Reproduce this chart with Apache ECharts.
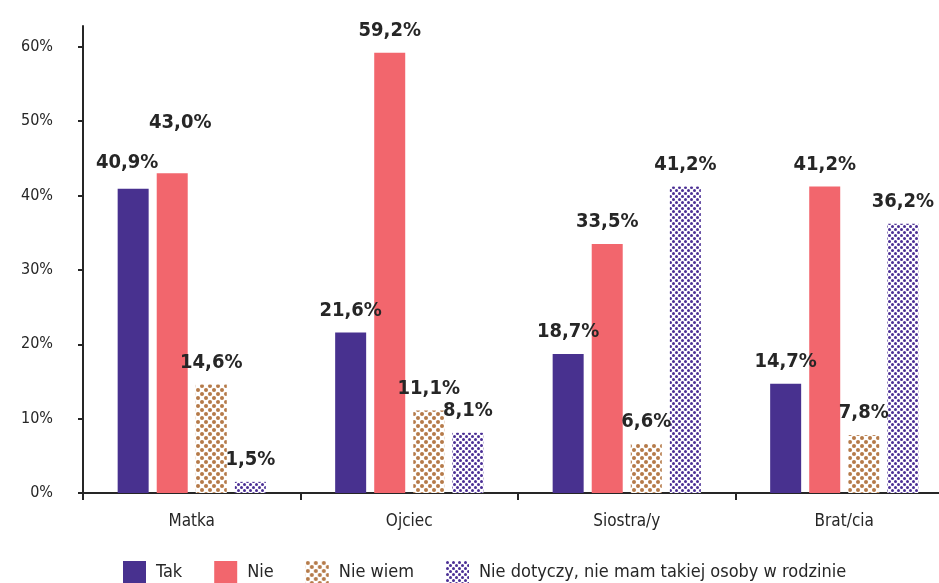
<!DOCTYPE html>
<html lang="pl">
  <head>
    <meta charset="UTF-8" />
    <title>Wykres</title>
    <style>
      html, body { margin: 0; padding: 0; background: #fff; overflow: hidden; }
      #chart { width: 953px; height: 583px; }
    </style>
  </head>
  <body>
    <div id="chart"></div>
    <script src="https://cdn.jsdelivr.net/npm/echarts@6/dist/echarts.min.js"></script>
    <script>
      const categories = ["Matka", "Ojciec", "Siostra/y", "Brat/cia"];
      const seriesNames = ["Tak", "Nie", "Nie wiem", "Nie dotyczy, nie mam takiej osoby w rodzinie"];
      const tak = [40.9, 21.6, 18.7, 14.7];
      const nie = [43.0, 59.2, 33.5, 41.2];
      const nieWiem = [14.6, 11.1, 6.6, 7.8];
      const nieDotyczy = [1.5, 8.1, 41.2, 36.2];
      const yTicks = [0, 10, 20, 30, 40, 50, 60];

      const font = "DejaVu Sans Condensed";

      // kropkowany wzór dla słupków
      function dots(color, size, r) {
        const c = document.createElement("canvas");
        c.width = size;
        c.height = size;
        const ctx = c.getContext("2d");
        ctx.fillStyle = "#fff";
        ctx.fillRect(0, 0, size, size);
        ctx.fillStyle = color;
        [[size / 4, size / 4], [size * 3 / 4, size * 3 / 4]].forEach(([x, y]) => {
          ctx.beginPath();
          ctx.arc(x, y, r, 0, Math.PI * 2);
          ctx.fill();
        });
        return c;
      }

      const colors = [
        "#48318f",
        "#f2666d",
        { image: dots("#b57a49", 8, 2), repeat: "repeat" },
        { image: dots("#4b2f95", 6, 1.5), repeat: "repeat" }
      ];

      // ręczne przesunięcia niektórych etykiet, jak w oryginale
      const labelShift = { "0-0": [-6, -4], "1-0": [8, -28] };

      function makeSeries(name, values, idx) {
        return {
          name: name,
          type: "bar",
          barWidth: 31,
          barGap: "26%",
          itemStyle: { color: colors[idx] },
          data: values.map((v, i) => {
            const shift = labelShift[idx + "-" + i];
            const item = { value: v };
            if (shift) item.label = { offset: shift };
            return item;
          }),
          label: {
            show: true,
            position: "top",
            distance: 12,
            fontFamily: font,
            fontWeight: "bold",
            fontSize: 20,
            color: "#262626",
            formatter: (p) => p.value.toFixed(1).replace(".", ",") + "%"
          }
        };
      }

      const chart = echarts.init(document.getElementById("chart"));
      chart.setOption({
        animation: false,
        grid: { left: 83, right: 0, top: 26, bottom: 90 },
        legend: {
          bottom: -6,
          left: 118,
          icon: "rect",
          itemWidth: 23,
          itemHeight: 23,
          itemGap: 32,
          textStyle: { fontFamily: font, fontSize: 18, color: "#262626", padding: [0, 0, 0, 5] },
          data: seriesNames
        },
        xAxis: {
          type: "category",
          data: categories,
          axisLine: { lineStyle: { color: "#262626", width: 2 } },
          axisTick: { show: true, length: 7, lineStyle: { color: "#262626", width: 2 } },
          axisLabel: { fontFamily: font, fontSize: 17, color: "#262626", margin: 20 }
        },
        yAxis: {
          type: "value",
          min: 0,
          max: 62.8,
          interval: 10,
          splitLine: { show: false },
          axisLine: { show: true, lineStyle: { color: "#262626", width: 2 } },
          axisTick: { show: true, length: 5, customValues: yTicks, lineStyle: { color: "#262626", width: 2 } },
          axisLabel: {
            fontFamily: font,
            fontSize: 16,
            color: "#262626",
            margin: 30,
            customValues: yTicks,
            formatter: "{value}%"
          }
        },
        series: [
          makeSeries(seriesNames[0], tak, 0),
          makeSeries(seriesNames[1], nie, 1),
          makeSeries(seriesNames[2], nieWiem, 2),
          makeSeries(seriesNames[3], nieDotyczy, 3)
        ]
      });
    </script>
  </body>
</html>
